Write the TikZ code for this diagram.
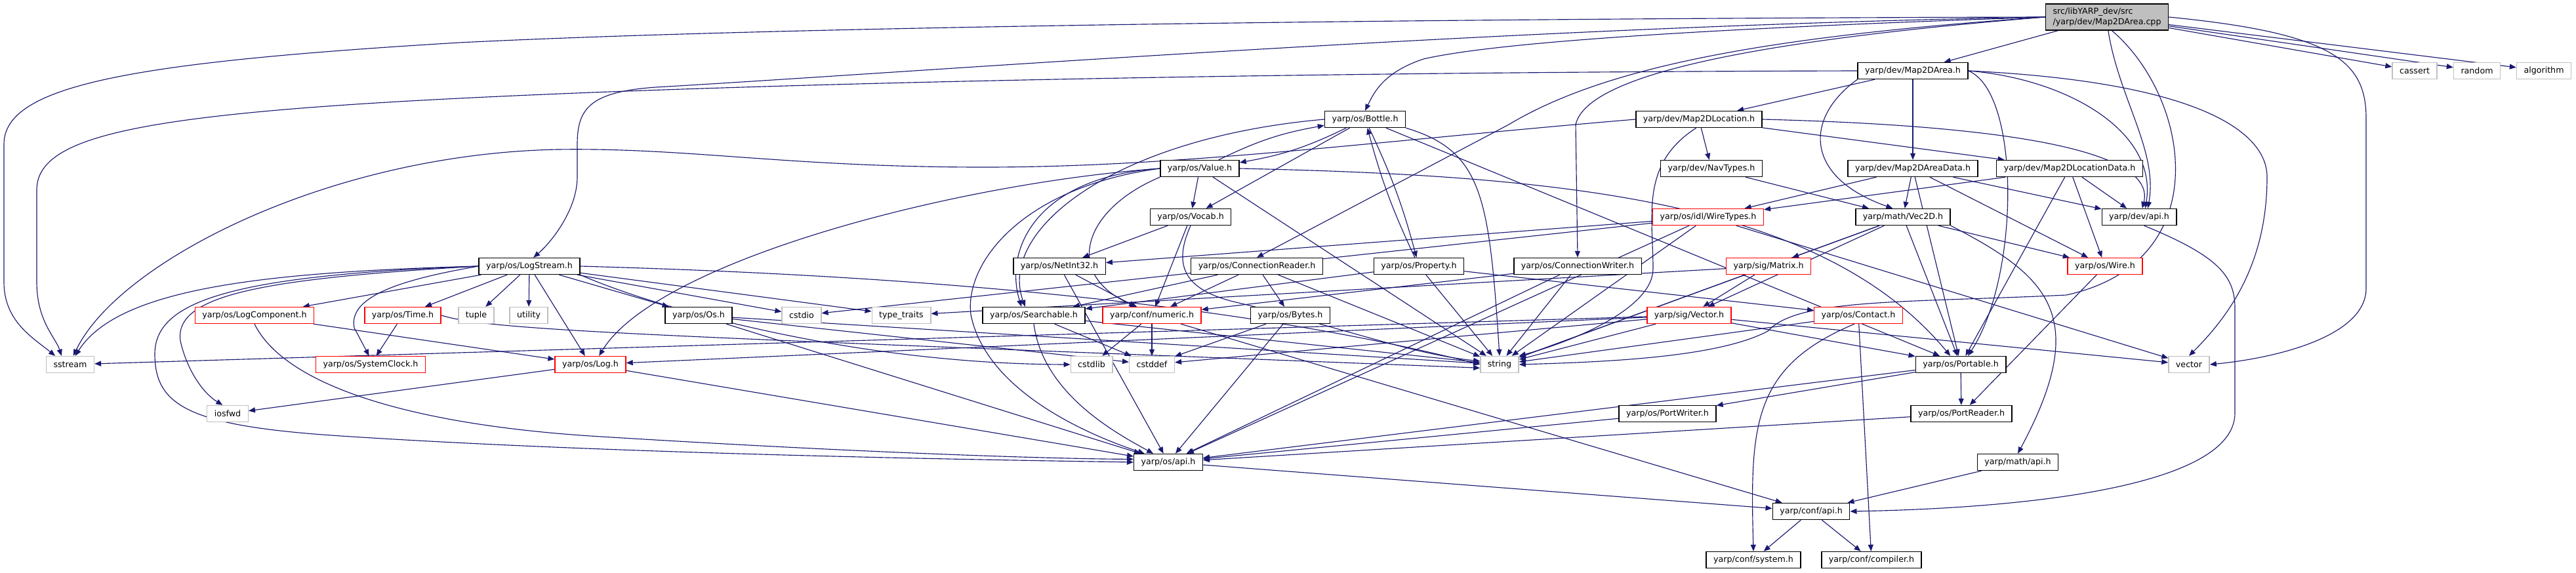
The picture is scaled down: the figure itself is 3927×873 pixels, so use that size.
\documentclass[tikz,border=0pt]{standalone}
\usepackage{fontspec}
\setmainfont{DejaVu Sans}
\usetikzlibrary{arrows.meta,backgrounds}
\definecolor{edgeblue}{RGB}{25,25,112}
\definecolor{nodegray}{RGB}{191,191,191}

\tikzset{
  hbox/.style={draw=black, fill=white, line width=0.8pt, inner xsep=0.22cm, inner ysep=0pt,
    minimum height=0.5cm, font=\fontsize{7.2}{8.6}\selectfont},
  redbox/.style={hbox, draw=red},
  sysbox/.style={hbox, draw=nodegray},
  rootbox/.style={hbox, fill=nodegray, align=left, minimum height=0.8cm},
  dep/.style={edgeblue, line width=0.65pt, -{Triangle[length=0.2cm,width=0.16cm]}},
}

\begin{document}
\begin{tikzpicture}[x=0.02cm, y=-0.02cm]
\useasboundingbox (0,0) rectangle (3927,873);

% top rows
\node[rootbox] (root) at (3212,26) {src/libYARP\_dev/src\\/yarp/dev/Map2DArea.cpp};
\node[hbox] (m2a) at (2916,108) {yarp/dev/Map2DArea.h};
\node[sysbox] (cassert) at (3681,108) {cassert};
\node[sysbox] (random) at (3776,108) {random};
\node[sysbox] (algorithm) at (3878,108) {algorithm};
\node[hbox] (bottle) at (2081,182) {yarp/os/Bottle.h};
\node[hbox] (m2loc) at (2590,182) {yarp/dev/Map2DLocation.h};
\node[hbox] (value) at (1829,257) {yarp/os/Value.h};
\node[hbox] (navtypes) at (2609,257) {yarp/dev/NavTypes.h};
\node[hbox] (m2ad) at (2916,257) {yarp/dev/Map2DAreaData.h};
\node[hbox] (m2ld) at (3155,257) {yarp/dev/Map2DLocationData.h};
\node[hbox] (vocab) at (1815,331) {yarp/os/Vocab.h};
\node[redbox] (wiretypes) at (2604,331) {yarp/os/idl/WireTypes.h};
\node[hbox] (vec2d) at (2901,331) {yarp/math/Vec2D.h};
\node[hbox] (devapi) at (3261,331) {yarp/dev/api.h};

% middle rows
\node[hbox] (logstream) at (807,406) {yarp/os/LogStream.h};
\node[hbox] (netint) at (1615,406) {yarp/os/NetInt32.h};
\node[hbox] (connreader) at (1916,406) {yarp/os/ConnectionReader.h};
\node[hbox] (property) at (2163,406) {yarp/os/Property.h};
\node[hbox] (connwriter) at (2405,406) {yarp/os/ConnectionWriter.h};
\node[redbox] (matrix) at (2696,406) {yarp/sig/Matrix.h};
\node[redbox] (wire) at (3209,406) {yarp/os/Wire.h};
\node[redbox] (logcomp) at (388,481) {yarp/os/LogComponent.h};
\node[redbox] (time) at (614,481) {yarp/os/Time.h};
\node[sysbox] (tuple) at (726,481) {tuple};
\node[sysbox] (utility) at (806,481) {utility};
\node[hbox] (os) at (1065,481) {yarp/os/Os.h};
\node[sysbox] (cstdio) at (1222,481) {cstdio};
\node[sysbox] (typetraits) at (1374,481) {type\_traits};
\node[hbox] (searchable) at (1576,481) {yarp/os/Searchable.h};
\node[redbox] (numeric) at (1756,481) {yarp/conf/numeric.h};
\node[hbox] (bytes) at (1967,481) {yarp/os/Bytes.h};
\node[redbox] (sigvector) at (2575,481) {yarp/sig/Vector.h};
\node[redbox] (contact) at (2833,481) {yarp/os/Contact.h};
\node[sysbox] (sstream) at (107,556) {sstream};
\node[redbox] (sysclock) at (565,556) {yarp/os/SystemClock.h};
\node[redbox] (log) at (900,556) {yarp/os/Log.h};
\node[sysbox] (cstdlib) at (1664,556) {cstdlib};
\node[sysbox] (cstddef) at (1756,556) {cstddef};
\node[sysbox] (string) at (2286,556) {string};
\node[hbox] (portable) at (2989,556) {yarp/os/Portable.h};
\node[sysbox] (vector) at (3337,556) {vector};

% bottom rows
\node[sysbox] (iosfwd) at (347,631) {iosfwd};
\node[hbox] (portwriter) at (2542,631) {yarp/os/PortWriter.h};
\node[hbox] (portreader) at (2990,631) {yarp/os/PortReader.h};
\node[hbox] (osapi) at (1781,705) {yarp/os/api.h};
\node[hbox] (mathapi) at (3076,705) {yarp/math/api.h};
\node[hbox] (confapi) at (2761,780) {yarp/conf/api.h};
\node[hbox] (system) at (2673,854) {yarp/conf/system.h};
\node[hbox] (compiler) at (2853,854) {yarp/conf/compiler.h};

\begin{scope}[on background layer]
% Map2DArea.cpp
\foreach \t in {m2a,cassert,random,algorithm} \draw[dep] (root) -- (\t);
\draw[dep] (root.west) .. controls (2200,28) and (1200,40) .. (700,65) .. controls (200,95) and (6,130) .. (6,220) -- (6,430) .. controls (6,490) and (50,515) .. (sstream.150);
\draw[dep] (root.west) .. controls (2300,40) and (1400,110) .. (1000,133) .. controls (900,140) and (880,165) .. (880,220) -- (880,270) .. controls (880,320) and (840,370) .. (logstream.65);
\draw[dep] (root.west) .. controls (2700,40) and (2300,60) .. (2170,90) .. controls (2110,110) and (2095,140) .. (bottle.north);
\draw[dep] (root.west) .. controls (2700,55) and (2450,100) .. (2300,190) -- (connreader.north);
\draw[dep] (root.west) .. controls (2700,60) and (2420,110) .. (2402,190) -- (connwriter.north);
\draw[dep] (root.-85) .. controls (3230,150) and (3290,230) .. (devapi.45);
\draw[dep] (root.-70) .. controls (3340,150) and (3380,400) .. (3150,450) .. controls (2900,462) and (2740,455) .. (2695,505) .. controls (2620,545) and (2450,552) .. (string.east);
\draw[dep] (root.east) .. controls (3550,50) and (3607,90) .. (3607,180) -- (3607,440) .. controls (3607,510) and (3480,545) .. (vector.east);

% dev headers
\foreach \t in {m2loc,m2ad} \draw[dep] (m2a) -- (\t);
\draw[dep] (m2a.west) .. controls (2000,110) and (1200,125) .. (700,150) .. controls (200,175) and (56,210) .. (56,290) -- (56,430) .. controls (56,490) and (85,515) .. (sstream.135);
\draw[dep] (m2a.south west) .. controls (2750,180) and (2750,270) .. (vec2d.140);
\draw[dep] (m2a.east) .. controls (3150,120) and (3290,200) .. (devapi.55);
\draw[dep] (m2a.east) .. controls (3350,125) and (3456,200) .. (3456,270) .. controls (3456,400) and (3400,480) .. (vector.north);
\draw[dep] (m2a.east) .. controls (3080,140) and (3080,420) .. (portable.50);
\foreach \t in {navtypes,m2ld} \draw[dep] (m2loc) -- (\t);
\draw[dep] (m2loc.west) .. controls (2100,215) and (1800,255) .. (1500,255) .. controls (1200,255) and (1050,225) .. (850,228) .. controls (500,235) and (180,400) .. (sstream.70);
\draw[dep] (m2loc.east) .. controls (3000,190) and (3290,220) .. (devapi.70);
\draw[dep] (m2loc.-108) .. controls (2500,250) and (2520,330) .. (2520,410) .. controls (2520,470) and (2400,520) .. (string.north east);
\foreach \t in {wiretypes,vec2d,devapi,wire,portable} \draw[dep] (m2ad) -- (\t);
\foreach \t in {wiretypes,devapi,wire,portable} \draw[dep] (m2ld) -- (\t);
\draw[dep] (navtypes) -- (vec2d);
\foreach \t in {matrix,sigvector,portable,wire,string} \draw[dep] (vec2d) -- (\t);
\draw[dep] (vec2d.south east) .. controls (3120,420) and (3190,480) .. (mathapi.north);
\draw[dep] (devapi.-60) .. controls (3380,390) and (3407,420) .. (3407,470) -- (3407,630) .. controls (3407,740) and (3100,775) .. (confapi.east);

% os headers
\draw[dep] (bottle) to[bend left=8] (value);
\draw[dep] (value) to[bend left=8] (bottle);
\draw[dep] (bottle) to[bend left=5] (property);
\draw[dep] (property) to[bend left=5] (bottle);
\foreach \t in {vocab,portable} \draw[dep] (bottle) -- (\t);
\draw[dep] (bottle.south east) .. controls (2260,230) and (2270,300) .. (string.north);
\draw[dep] (bottle.west) .. controls (1700,210) and (1520,350) .. (searchable.135);
\foreach \t in {vocab,string} \draw[dep] (value) -- (\t);
\draw[dep] (value.west) .. controls (1580,270) and (1530,380) .. (searchable.145);
\draw[dep] (value.south west) .. controls (1650,320) and (1620,420) .. (numeric.150);
\draw[dep] (value.west) .. controls (1560,285) and (1470,400) .. (1480,480) .. controls (1500,580) and (1620,650) .. (osapi.160);
\draw[dep] (value.east) .. controls (2400,268) and (2780,310) .. (portable.140);
\draw[dep] (value.west) .. controls (1450,280) and (1000,400) .. (log.45);
\foreach \t in {netint,numeric} \draw[dep] (vocab) -- (\t);
\draw[dep] (vocab.south) .. controls (1790,400) and (1800,440) .. (1880,460) .. controls (2050,500) and (2150,540) .. (string.170);
\foreach \t in {numeric,osapi} \draw[dep] (netint) -- (\t);

% LogStream.h
\foreach \t in {logcomp,time,tuple,utility,log,os,cstdio,typetraits} \draw[dep] (logstream) -- (\t);
\draw[dep] (logstream.west) .. controls (400,415) and (180,440) .. (sstream.60);
\draw[dep] (logstream.west) .. controls (400,425) and (265,450) .. (275,520) .. controls (285,565) and (310,600) .. (iosfwd.120);
\draw[dep] (logstream.west) .. controls (350,420) and (236,460) .. (236,540) .. controls (236,620) and (290,650) .. (520,665) .. controls (900,690) and (1400,700) .. (osapi.west);
\draw[dep] (logstream.west) .. controls (620,425) and (530,450) .. (540,500) -- (sysclock.100);
\draw[dep] (logstream.south east) .. controls (1000,470) and (1300,555) .. (cstdlib.west);
\draw[dep] (logstream.east) .. controls (1200,415) and (1800,440) .. (string.180);
\draw[dep] (logcomp) -- (log);
\draw[dep] (logcomp.south) .. controls (430,580) and (600,645) .. (900,665) .. controls (1300,690) and (1600,700) .. (osapi.175);
\draw[dep] (time) -- (sysclock);
\draw[dep] (time.east) .. controls (750,505) and (1000,512) .. (string.190);
\foreach \t in {iosfwd,osapi} \draw[dep] (log) -- (\t);
\foreach \t in {osapi,cstddef,string} \draw[dep] (os) -- (\t);
\foreach \t in {cstddef,string} \draw[dep] (searchable) -- (\t);
\draw[dep] (searchable.south) .. controls (1590,600) and (1700,660) .. (osapi.150);
\foreach \t in {cstdlib,cstddef,confapi} \draw[dep] (numeric) -- (\t);
\foreach \t in {cstddef,osapi} \draw[dep] (bytes) -- (\t);
\foreach \t in {numeric,bytes,string,searchable} \draw[dep] (connreader) -- (\t);
\foreach \t in {string,osapi,numeric} \draw[dep] (connwriter) -- (\t);
\foreach \t in {string,searchable,contact} \draw[dep] (property) -- (\t);
\foreach \t in {netint,cstdio,string,vector,osapi} \draw[dep] (wiretypes) -- (\t);
\foreach \t in {sigvector,string,typetraits} \draw[dep] (matrix) -- (\t);
\foreach \t in {string,portable,vector,log,cstddef,sstream} \draw[dep] (sigvector) -- (\t);
\foreach \t in {string,compiler} \draw[dep] (contact) -- (\t);
\draw[dep] (contact.-115) .. controls (2670,560) and (2668,650) .. (system.north);
\draw[dep] (wire) -- (portreader);
\foreach \t in {portwriter,portreader,osapi} \draw[dep] (portable) -- (\t);
\draw[dep] (portwriter) -- (osapi);
\draw[dep] (portreader) -- (osapi);
\draw[dep] (osapi) -- (confapi);
\draw[dep] (mathapi) -- (confapi);
\foreach \t in {system,compiler} \draw[dep] (confapi) -- (\t);
\end{scope}
\end{tikzpicture}
\end{document}
